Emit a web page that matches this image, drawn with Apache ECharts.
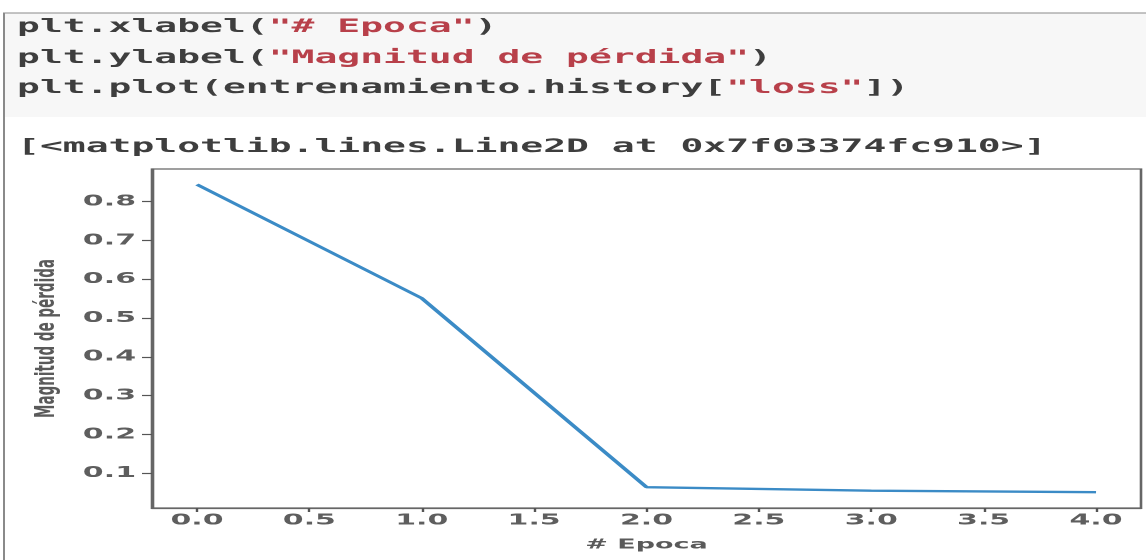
<!DOCTYPE html>
<html>
<head>
<meta charset="utf-8">
<script src="https://cdn.jsdelivr.net/npm/echarts@6/dist/echarts.min.js"></script>
<style>
html,body{margin:0;padding:0;background:#fff;overflow:hidden;width:1146px;height:560px;}
#wrap{position:absolute;left:0;top:0;width:573px;height:560px;transform:scaleX(2);transform-origin:0 0;}
#chart{width:573px;height:560px;}
</style>
</head>
<body>
<div id="wrap"><div id="chart"></div></div>
<script>
// data
const epochs = [0, 1, 2, 3, 4];
const loss = [0.844, 0.551, 0.064, 0.055, 0.051];
const xTicks = [0, 0.5, 1, 1.5, 2, 2.5, 3, 3.5, 4];
const yTicks = [0.1, 0.2, 0.3, 0.4, 0.5, 0.6, 0.7, 0.8];
const xLabel = '# Epoca';
const yLabel = 'Magnitud de pérdida';
const codeLines = [
  ['plt.xlabel(', '"# Epoca"', ')'],
  ['plt.ylabel(', '"Magnitud de pérdida"', ')'],
  ['plt.plot(entrenamiento.history[', '"loss"', '])']
];
const outText = '[<matplotlib.lines.Line2D at 0x7f03374fc910>]';

const chart = echarts.init(document.getElementById('chart'), null, {devicePixelRatio: 2});
const mono = '"DejaVu Sans Mono", monospace';
const codeY = [27, 58, 88];
const graphics = [
  {type: 'rect', shape: {x: 2, y: 13, width: 600, height: 104}, style: {fill: '#f7f7f7', stroke: null}, z: 0},
  {type: 'rect', shape: {x: 2, y: 13, width: 600, height: 600}, style: {fill: null, stroke: '#8a8a8a', lineWidth: 1}, z: 1}
];
codeLines.forEach((parts, i) => {
  graphics.push({
    type: 'text', x: 8.5, y: codeY[i], z: 5,
    style: {
      text: '{a|' + parts[0] + '}{s|' + parts[1] + '}{a|' + parts[2] + '}',
      verticalAlign: 'middle',
      rich: {
        a: {fontFamily: mono, fontSize: 19, fontWeight: 'bold', fill: '#3e3e3e'},
        s: {fontFamily: mono, fontSize: 19, fontWeight: 'bold', fill: '#b8404a'}
      }
    }
  });
});
graphics.push({
  type: 'text', x: 8.5, y: 147, z: 5,
  style: {text: outText, fontFamily: mono, fontSize: 19, fontWeight: 'bold', fill: '#3e3e3e', verticalAlign: 'middle'}
});

const lblFont = {fontFamily: '"DejaVu Sans"', fontSize: 13.5, fontWeight: 'bold', color: '#5a5a5a'};
const tickFont = {fontFamily: '"DejaVu Sans"', fontSize: 15, fontWeight: 'bold', color: '#5e5e5e'};

chart.setOption({
  animation: false,
  backgroundColor: '#fff',
  grid: {left: 76, right: 2.5, top: 169, bottom: 52, show: true, borderColor: '#666', borderWidth: 1.3, backgroundColor: 'transparent'},
  xAxis: {
    type: 'value', min: -0.2, max: 4.2,
    name: xLabel, nameLocation: 'middle', nameGap: 30,
    nameTextStyle: lblFont,
    axisLine: {show: true, onZero: false, lineStyle: {color: '#666', width: 1.3}},
    axisTick: {show: true, length: 4, lineStyle: {color: '#555', width: 1.2}, customValues: xTicks},
    axisLabel: Object.assign({customValues: xTicks, formatter: v => v.toFixed(1), margin: 5}, tickFont),
    splitLine: {show: false}
  },
  yAxis: {
    type: 'value', min: 0.0103, max: 0.884,
    name: yLabel, nameLocation: 'middle', nameGap: 41,
    nameTextStyle: lblFont,
    axisLine: {show: true, onZero: false, lineStyle: {color: '#666', width: 1.3}},
    axisTick: {show: true, length: 5, lineStyle: {color: '#555', width: 1.2}, customValues: yTicks},
    axisLabel: Object.assign({customValues: yTicks, formatter: v => v.toFixed(1), margin: 8}, tickFont),
    splitLine: {show: false}
  },
  series: [{
    type: 'line',
    data: epochs.map((e, i) => [e, loss[i]]),
    showSymbol: false,
    lineStyle: {color: '#3b8bc6', width: 2.4},
    z: 3
  }],
  graphic: graphics
});
</script>
</body>
</html>
